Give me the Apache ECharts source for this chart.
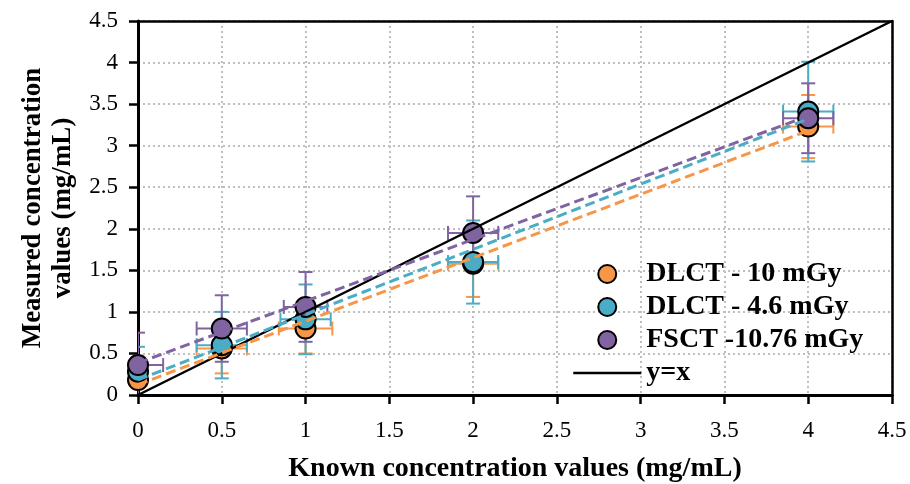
<!DOCTYPE html>
<html><head><meta charset="utf-8">
<script src="https://cdn.jsdelivr.net/npm/echarts@6/dist/echarts.min.js"></script>
<style>html,body{margin:0;padding:0;background:#fff}#chart{width:910px;height:484px}</style>
</head><body><div id="chart"></div>
<script>
// ---- data ----
const knownX = [0, 0.5, 1, 2, 4];
const dlct10Y = [0.18, 0.56, 0.80, 1.58, 3.23];
const dlct10YErr = [0.25, 0.30, 0.30, 0.40, 0.38];
const dlct10XErr = [0.05, 0.15, 0.16, 0.15, 0.15];
const dlct46Y = [0.28, 0.60, 0.91, 1.60, 3.41];
const dlct46YErr = [0.30, 0.40, 0.42, 0.50, 0.60];
const dlct46XErr = [0.05, 0.15, 0.15, 0.15, 0.15];
const fsctY = [0.36, 0.80, 1.06, 1.95, 3.33];
const fsctYErr = [0.39, 0.40, 0.42, 0.44, 0.42];
const fsctXErr = [0.15, 0.15, 0.13, 0.15, 0.15];
const identityX = [0, 4.5];
const seriesNames = ['DLCT - 10 mGy', 'DLCT - 4.6 mGy', 'FSCT -10.76 mGy', 'y=x'];
const xAxisTitle = 'Known concentration values (mg/mL)';
const yAxisTitle = 'Measured concentration\nvalues (mg/mL)';

// ---- styling ----
const colors = ['#F79646', '#4BACC6', '#8064A2'];
const FONT = '"Liberation Serif", "Times New Roman", serif';

function linFit(xs, ys) {
  const n = xs.length;
  const mx = xs.reduce((a, b) => a + b, 0) / n;
  const my = ys.reduce((a, b) => a + b, 0) / n;
  let sxy = 0, sxx = 0;
  for (let i = 0; i < n; i++) { sxy += (xs[i] - mx) * (ys[i] - my); sxx += (xs[i] - mx) ** 2; }
  const m = sxy / sxx;
  return { m, b: my - m * mx };
}

function errRender(color) {
  return function (params, api) {
    const x = api.value(0), y = api.value(1), ye = api.value(2), xe = api.value(3);
    const top = api.coord([x, y + ye]), bot = api.coord([x, y - ye]);
    const l = api.coord([x - xe, y]), r = api.coord([x + xe, y]);
    const h = 7;
    const style = { stroke: color, lineWidth: 2 };
    const ln = (x1, y1, x2, y2) => ({ type: 'line', shape: { x1, y1, x2, y2 }, style });
    return {
      type: 'group',
      children: [
        ln(top[0], top[1], bot[0], bot[1]),
        ln(top[0] - h, top[1], top[0] + h, top[1]),
        ln(bot[0] - h, bot[1], bot[0] + h, bot[1]),
        ln(l[0], l[1], r[0], r[1]),
        ln(l[0], l[1] - h, l[0], l[1] + h),
        ln(r[0], r[1] - h, r[0], r[1] + h)
      ]
    };
  };
}

const groups = [
  [dlct10Y, dlct10YErr, dlct10XErr],
  [dlct46Y, dlct46YErr, dlct46XErr],
  [fsctY, fsctYErr, fsctXErr]
];

const series = [{
  name: seriesNames[3],
  type: 'line',
  data: identityX.map(v => [v, v]),
  showSymbol: false,
  symbol: 'none',
  lineStyle: { color: '#000', width: 2.5 },
  itemStyle: { color: '#000' },
  silent: true
}];

groups.forEach((g, k) => {
  const [ys, ye, xe] = g;
  series.push({
    name: seriesNames[k] + ' error',
    type: 'custom',
    clip: true,
    renderItem: errRender(colors[k]),
    encode: { x: 0, y: 1 },
    data: knownX.map((x, i) => [x, ys[i], ye[i], xe[i]]),
    silent: true
  });
  series.push({
    name: seriesNames[k],
    type: 'scatter',
    data: knownX.map((x, i) => [x, ys[i]]),
    symbol: 'circle',
    symbolSize: 20,
    itemStyle: { color: colors[k], borderColor: '#000', borderWidth: 2, opacity: 1 }
  });
  const f = linFit(knownX, ys);
  const x0 = Math.min(...knownX), x1 = Math.max(...knownX);
  series.push({
    name: seriesNames[k] + ' trend',
    type: 'line',
    data: [[x0, f.m * x0 + f.b], [x1, f.m * x1 + f.b]],
    showSymbol: false,
    symbol: 'none',
    lineStyle: { color: colors[k], width: 3, type: [10, 5] },
    silent: true
  });
});

const axisCommon = {
  type: 'value',
  min: 0, max: 4.5, interval: 0.5,
  axisLine: { show: true, lineStyle: { color: '#000', width: 3 } },
  axisTick: { show: true, inside: false, length: 9, lineStyle: { color: '#000', width: 2.5 } },
  splitLine: { show: true, lineStyle: { color: '#BFBFBF', width: 2, type: [2, 3] } },
  nameLocation: 'middle',
  nameTextStyle: { fontFamily: FONT, fontWeight: 'bold', fontSize: 27, color: '#000' }
};
const frameAxis = {
  type: 'value', min: 0, max: 4.5, interval: 0.5,
  axisLine: { show: true, onZero: false, lineStyle: { color: '#000', width: 2.5 } },
  axisTick: { show: false }, axisLabel: { show: false }, splitLine: { show: false }
};

const chart = echarts.init(document.getElementById('chart'), null, { renderer: 'canvas' });
chart.setOption({
  animation: false,
  backgroundColor: '#fff',
  grid: { left: 138, right: 18, top: 21, bottom: 89, containLabel: false, outerBoundsMode: 'none' },
  xAxis: [Object.assign({}, axisCommon, {
    name: xAxisTitle,
    nameGap: 60,
    nameTextStyle: Object.assign({}, axisCommon.nameTextStyle, { fontSize: 28 }),
    axisLabel: { fontFamily: FONT, fontSize: 23, color: '#000', margin: 24 }
  }), Object.assign({}, frameAxis, { position: 'top' })],
  yAxis: [Object.assign({}, axisCommon, {
    name: yAxisTitle,
    nameGap: 54,
    nameRotate: 90,
    nameTextStyle: Object.assign({}, axisCommon.nameTextStyle, { lineHeight: 30 }),
    axisLabel: { fontFamily: FONT, fontSize: 23, color: '#000', margin: 20 }
  }), Object.assign({}, frameAxis, { position: 'right' })],
  legend: {
    orient: 'vertical',
    left: 572,
    top: 260,
    padding: 0,
    itemWidth: 68,
    itemHeight: 18,
    itemGap: 5,
    data: [
      { name: seriesNames[0] },
      { name: seriesNames[1] },
      { name: seriesNames[2] },
      { name: seriesNames[3], itemStyle: { opacity: 0, borderWidth: 0 }, lineStyle: { width: 2.5, color: '#000' } }
    ],
    textStyle: { fontFamily: FONT, fontWeight: 'bold', fontSize: 28, color: '#000', lineHeight: 20 },
    selectedMode: false
  },
  series
});
</script>
</body></html>
